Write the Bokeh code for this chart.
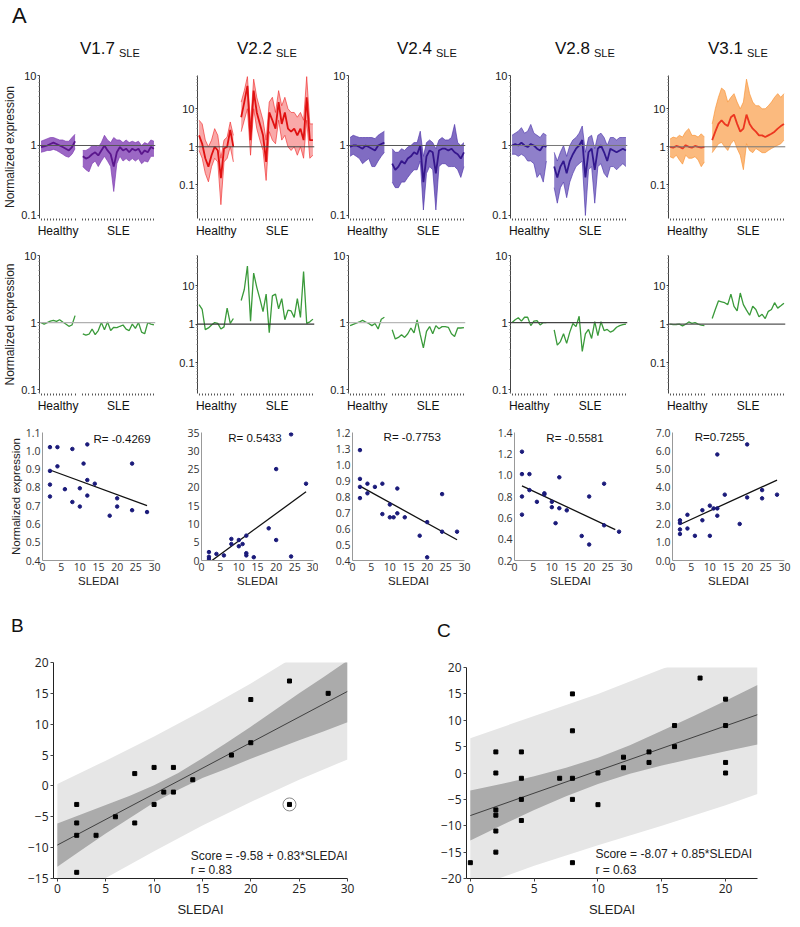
from bokeh.plotting import figure
from bokeh.layouts import row, column
from bokeh.models import (Div, Span, Label, FixedTicker, Range1d,
                          PrintfTickFormatter, BasicTickFormatter)
from bokeh.embed import file_html
from bokeh.resources import INLINE

SANS = "Liberation Sans"
NUM = "Open Sans"

# ------------------------------------------------------------------ data A
modules = ["V1.7", "V2.2", "V2.4", "V2.8", "V3.1"]
healthy_pos = list(range(12))
sle_pos = [13.5 + k for k in range(24)]
healthy_center = sum(healthy_pos) / len(healthy_pos)
sle_center = sum(sle_pos) / len(sle_pos)

# top row: transcript bundles (low envelope, typical, high envelope)
v17_h_lo = [0.8, 0.82, 0.85, 0.85, 0.88, 0.85, 0.8, 0.75, 0.7, 0.68, 0.75, 0.9]
v17_h_med = [0.95, 0.97, 1.0, 1.05, 1.1, 1.05, 1.0, 0.95, 0.9, 0.85, 0.95, 1.15]
v17_h_hi = [1.15, 1.2, 1.25, 1.3, 1.3, 1.25, 1.2, 1.2, 1.15, 1.15, 1.3, 1.45]
v17_s_lo = [0.5, 0.45, 0.42, 0.55, 0.6, 0.5, 0.6, 0.7, 0.6, 0.5, 0.22, 0.55, 0.7, 0.6, 0.65, 0.6, 0.65, 0.6, 0.65, 0.55, 0.6, 0.58, 0.7, 0.7]
v17_s_med = [0.7, 0.65, 0.68, 0.75, 0.8, 0.72, 0.85, 1.0, 0.85, 0.75, 0.5, 0.8, 0.95, 0.85, 0.9, 0.8, 0.9, 0.85, 0.9, 0.75, 0.85, 0.8, 0.95, 0.9]
v17_s_hi = [0.85, 0.85, 0.9, 1.0, 1.0, 0.95, 1.1, 1.4, 1.2, 1.1, 1.3, 1.2, 1.2, 1.1, 1.2, 1.1, 1.15, 1.1, 1.15, 1.0, 1.1, 1.05, 1.2, 1.15]

v22_h_lo = [0.8, 0.5, 0.2, 0.12, 0.3, 0.5, 0.4, 0.03, 0.4, 0.5, 1.0, 0.4]
v22_h_med = [2.0, 1.2, 0.5, 0.3, 0.6, 1.0, 0.8, 0.15, 0.9, 1.0, 2.8, 1.0]
v22_h_hi = [5.0, 4.0, 1.5, 1.0, 1.5, 3.0, 2.0, 0.5, 1.5, 1.8, 4.5, 2.0]
v22_s_lo = [2.5, 5, 10, 0.6, 10, 3, 1.5, 0.8, 0.13, 2.5, 1.5, 1.2, 5, 1.5, 2, 1.0, 0.8, 1.0, 0.6, 1.0, 0.5, 5, 0.5, 0.6]
v22_s_med = [6, 15, 40, 1.5, 30, 8, 4, 2, 0.4, 8, 5, 3, 15, 4, 8, 3, 2.5, 3, 2, 3, 1.5, 20, 1.5, 1.5]
v22_s_hi = [15, 30, 70, 4, 60, 20, 10, 5, 1.5, 15, 20, 8, 30, 12, 20, 10, 8, 8, 6, 8, 5, 70, 4, 4]

v24_h_lo = [0.7, 0.75, 0.7, 0.65, 0.55, 0.6, 0.65, 0.5, 0.5, 0.6, 0.7, 0.8]
v24_h_med = [0.95, 1.0, 1.0, 0.95, 0.9, 1.0, 0.95, 0.9, 0.85, 1.0, 1.05, 1.1]
v24_h_hi = [1.3, 1.4, 1.35, 1.3, 1.3, 1.3, 1.3, 1.3, 1.25, 1.4, 1.5, 1.6]
v24_s_lo = [0.3, 0.25, 0.25, 0.3, 0.3, 0.35, 0.4, 0.45, 0.45, 0.6, 0.12, 0.4, 0.5, 0.45, 0.12, 0.5, 0.55, 0.55, 0.5, 0.5, 0.5, 0.45, 0.35, 0.5]
v24_s_med = [0.55, 0.45, 0.5, 0.6, 0.55, 0.65, 0.7, 0.8, 0.75, 1.0, 0.3, 0.7, 0.85, 0.8, 0.4, 0.85, 0.9, 0.9, 0.85, 0.9, 0.8, 0.75, 0.65, 0.8]
v24_s_hi = [0.9, 0.8, 0.8, 0.9, 0.85, 0.95, 1.0, 1.1, 1.1, 1.6, 0.7, 1.1, 1.2, 1.1, 0.9, 1.2, 1.3, 1.2, 1.2, 1.3, 2.0, 1.1, 1.0, 1.1]

v28_h_lo = [0.75, 0.75, 0.7, 0.75, 0.7, 0.6, 0.6, 0.55, 0.35, 0.4, 0.3, 0.6]
v28_h_med = [1.0, 1.05, 1.0, 1.1, 1.0, 0.95, 1.05, 1.0, 0.9, 0.85, 1.0, 0.95]
v28_h_hi = [1.4, 1.5, 1.6, 1.8, 1.5, 1.6, 2.0, 1.5, 1.4, 1.3, 1.5, 1.4]
v28_s_lo = [0.25, 0.15, 0.25, 0.3, 0.18, 0.3, 0.4, 0.5, 0.55, 0.6, 0.1, 0.45, 0.5, 0.15, 0.5, 0.55, 0.4, 0.35, 0.5, 0.5, 0.45, 0.5, 0.55, 0.5]
v28_s_med = [0.5, 0.35, 0.5, 0.6, 0.4, 0.6, 0.75, 0.9, 1.0, 1.2, 0.35, 0.8, 0.9, 0.45, 0.9, 1.0, 0.8, 0.6, 0.9, 0.85, 0.8, 0.85, 0.9, 0.85]
v28_s_hi = [0.8, 0.6, 0.8, 1.0, 0.7, 1.0, 1.2, 1.3, 1.5, 1.9, 0.8, 1.3, 1.4, 0.9, 1.4, 1.5, 1.3, 1.0, 1.3, 1.3, 1.2, 1.3, 1.3, 1.3]

v31_h_lo = [0.55, 0.5, 0.6, 0.45, 0.35, 0.6, 0.5, 0.5, 0.55, 0.45, 0.3, 0.4]
v31_h_med = [1.0, 0.95, 1.05, 1.0, 0.9, 1.1, 1.0, 0.95, 1.05, 1.0, 0.95, 1.0]
v31_h_hi = [1.6, 1.8, 1.7, 2.0, 1.8, 2.5, 3.0, 2.0, 2.0, 1.8, 2.2, 1.8]
v31_s_lo = [0.7, 0.9, 1.2, 1.3, 1.0, 0.8, 1.2, 1.5, 0.9, 0.6, 0.25, 1.2, 0.8, 0.7, 0.9, 0.8, 0.7, 0.7, 0.8, 0.9, 1.0, 1.1, 1.2, 1.5]
v31_s_med = [1.5, 2.5, 4, 5, 4, 3.5, 6, 7, 4, 2.5, 3, 7, 4, 3, 2.5, 2, 2, 1.8, 2, 2.2, 2.5, 3, 3.5, 4]
v31_s_hi = [4, 10, 20, 35, 30, 15, 20, 25, 15, 10, 15, 60, 25, 15, 12, 12, 10, 10, 12, 15, 20, 25, 20, 25]

# middle row: module level (green)
g17_h = [1.0, 0.95, 1.0, 1.05, 1.08, 1.04, 1.1, 1.02, 0.95, 0.88, 0.92, 1.27]
g17_s = [0.68, 0.65, 0.67, 0.80, 0.66, 0.76, 1.0, 0.78, 1.02, 0.76, 0.85, 0.84, 0.88, 0.92, 0.80, 0.76, 0.95, 0.82, 1.0, 0.72, 0.68, 1.0, 0.95, 0.92]
g22_h = [3.2, 2.4, 0.72, 0.8, 0.95, 1.1, 1.05, 0.75, 0.85, 2.6, 1.05, 1.4]
g22_s = [4.1, 7.9, 32, 1.2, 21, 9.0, 4.5, 2.1, 6.0, 0.6, 5.4, 6.0, 2.5, 4.6, 1.3, 2.3, 2.2, 1.5, 4.6, 1.5, 23, 1.05, 1.15, 1.35]
g24_h = [0.9, 0.94, 0.98, 1.02, 1.08, 1.02, 0.97, 0.9, 0.97, 0.8, 1.12, 1.2]
g24_s = [0.78, 0.57, 0.6, 0.66, 0.6, 0.68, 0.83, 0.7, 1.1, 0.66, 0.42, 0.74, 0.87, 0.68, 0.9, 0.81, 0.87, 0.87, 0.85, 0.68, 0.62, 0.83, 0.83, 0.84]
g28_h = [1.0, 1.1, 1.18, 1.05, 1.2, 1.2, 0.9, 1.05, 1.07, 0.92, 1.0, 1.0]
g28_s = [0.78, 0.46, 0.52, 0.68, 0.49, 0.72, 0.97, 0.87, 1.24, 0.37, 0.68, 0.79, 0.58, 1.03, 0.64, 1.03, 0.76, 0.79, 0.72, 0.76, 0.85, 0.9, 0.93, 0.95]
g31_h = [1.0, 0.97, 0.98, 1.0, 0.9, 1.0, 1.14, 1.05, 1.1, 1.0, 0.94, 0.92]
g31_s = [1.4, 2.4, 4.0, 3.8, 3.6, 3.2, 6.0, 2.9, 2.2, 6.4, 3.2, 2.3, 1.7, 2.9, 2.4, 1.55, 1.8, 1.4, 2.15, 2.4, 3.6, 2.6, 3.0, 3.5]

# bottom row of A: SLEDAI correlations
s17_x = [2, 2, 2, 2, 4, 4, 6, 8, 8, 10, 10, 11, 12, 12, 12, 14, 18, 20, 20, 24, 24, 28]
s17_y = [1.02, 0.89, 0.815, 0.75, 1.02, 0.915, 0.79, 1.01, 0.72, 0.795, 0.695, 0.93, 1.035, 0.84, 0.755, 0.82, 0.645, 0.74, 0.695, 0.93, 0.675, 0.665]
s22_x = [2, 2, 2, 4, 6, 8, 8, 10, 10, 11, 12, 12, 12, 14, 18, 20, 20, 24, 24, 28]
s22_y = [2.3, 1.0, 0.4, 1.8, 1.4, 5.9, 4.5, 5.6, 3.9, 4.5, 6.8, 2.0, 1.4, 0.9, 8.8, 25, 5.6, 34.5, 1.1, 21]
s24_x = [2, 2, 2, 2, 4, 4, 6, 8, 8, 10, 10, 11, 12, 12, 14, 18, 20, 20, 24, 24, 28]
s24_y = [1.09, 0.91, 0.86, 0.79, 0.88, 0.82, 0.86, 0.88, 0.69, 0.75, 0.67, 0.67, 0.85, 0.695, 0.67, 0.555, 0.64, 0.42, 0.815, 0.58, 0.58]
s28_x = [2, 2, 2, 2, 4, 4, 6, 8, 8, 10, 10, 11, 12, 12, 14, 18, 20, 20, 24, 24, 28]
s28_y = [1.22, 1.01, 0.80, 0.63, 1.01, 0.86, 0.75, 0.82, 0.83, 0.75, 0.70, 0.55, 0.98, 0.69, 0.67, 0.43, 0.80, 0.35, 0.92, 0.53, 0.47]
s31_x = [2, 2, 2, 2, 4, 4, 6, 8, 8, 10, 10, 11, 12, 12, 12, 14, 18, 20, 20, 24, 24, 28]
s31_y = [2.2, 2.05, 1.7, 1.45, 2.5, 1.75, 1.35, 2.75, 2.2, 3.0, 1.35, 2.85, 5.8, 2.85, 2.45, 3.6, 2.0, 6.35, 3.45, 3.85, 3.4, 3.6]

fit17_x, fit17_y = [2, 28], [0.895, 0.70]
fit22_x, fit22_y = [2, 28], [-0.6, 18.8]
fit24_x, fit24_y = [2, 28], [0.865, 0.53]
fit28_x, fit28_y = [2, 27], [0.90, 0.49]
fit31_x, fit31_y = [2, 28], [1.97, 4.4]

r_texts = ["R= -0.4269", "R= 0.5433", "R= -0.7753", "R= -0.5581", "R=0.7255"]
r_pos_x = [21.3, 14.3, 16, 16.2, 12.7]
r_pos_y = [1.065, 33.6, 1.17, 1.35, 6.73]

corr_ranges = [(0.4, 1.1), (0, 35), (0.4, 1.2), (0.2, 1.4), (0, 7)]
corr_ticks = [[0.4, 0.5, 0.6, 0.7, 0.8, 0.9, 1.0, 1.1],
              [0, 5, 10, 15, 20, 25, 30, 35],
              [0.4, 0.5, 0.6, 0.7, 0.8, 0.9, 1.0, 1.1, 1.2],
              [0.2, 0.4, 0.6, 0.8, 1.0, 1.2, 1.4],
              [0, 1, 2, 3, 4, 5, 6, 7]]
sledai_ticks = [0, 5, 10, 15, 20, 25, 30]

# ------------------------------------------------------------------ data B
B_x = [2, 2, 2, 2, 4, 6, 8, 8, 10, 10, 11, 12, 12, 14, 18, 20, 20, 24, 28]
B_y = [-3, -6, -8, -14, -8, -5, 2, -6, 3, -3, -1, 3, -1, 1, 5, 14, 7, 17, 15]
B_out_x = [24]
B_out_y = [-3]
B_fit_x = [0, 30]
B_fit_y = [-9.58, 15.32]
B_conf_x = [0, 2.5, 5, 7.5, 10, 12.5, 15, 17.5, 20, 22.5, 25, 27.5, 30]
B_conf_lo = [-13.1, -10.4, -7.7, -5.2, -2.7, -0.6, 1.3, 2.8, 4.4, 5.9, 7.4, 8.8, 10.3]
B_conf_hi = [-6.1, -4.6, -3.1, -1.6, 0.1, 2.1, 4.5, 7.0, 9.6, 12.3, 15.0, 17.6, 20.3]
B_pred_x = [0, 5, 10, 15, 20, 25, 30]
B_pred_lo = [-19.5, -14.9, -10.6, -6.4, -2.6, 1.0, 4.3]
B_pred_hi = [0.3, 4.1, 8.0, 12.2, 16.6, 21.4, 26.3]

# ------------------------------------------------------------------ data C
C_x = [0, 2, 2, 2, 2, 2, 2, 4, 4, 4, 4, 7, 8, 8, 8, 8, 8, 10, 10, 12, 12, 14, 14, 16, 16, 18, 20, 20, 20, 20]
C_y = [-17, 4, 0, -7, -8, -11, -15, 4, -1, -5, -9, -1, 15, 8, -1, -5, -17, 0, -6, 3, 1, 4, 2, 9, 5, 18, 14, 9, 2, 0]
C_fit_x = [0, 22.5]
C_fit_y = [-8.07, 11.055]
C_conf_x = [0, 2.5, 5, 7.5, 10, 12.5, 15, 17.5, 20, 22.5]
C_conf_lo = [-12.8, -9.85, -7.0, -4.4, -2.1, -0.15, 1.4, 2.8, 4.1, 5.4]
C_conf_hi = [-3.3, -2.05, -0.6, 1.0, 2.9, 5.25, 8.0, 10.8, 13.7, 16.7]
C_pred_x = [0, 5, 10, 15, 20, 22.5]
C_pred_lo = [-21.9, -17.6, -13.7, -10.0, -6.1, -4.0]
C_pred_hi = [6.6, 10.8, 15.0, 19.7, 24.2, 26.5]

# ------------------------------------------------------------------ collect
bundles = [
    (v17_h_lo, v17_h_med, v17_h_hi, v17_s_lo, v17_s_med, v17_s_hi),
    (v22_h_lo, v22_h_med, v22_h_hi, v22_s_lo, v22_s_med, v22_s_hi),
    (v24_h_lo, v24_h_med, v24_h_hi, v24_s_lo, v24_s_med, v24_s_hi),
    (v28_h_lo, v28_h_med, v28_h_hi, v28_s_lo, v28_s_med, v28_s_hi),
    (v31_h_lo, v31_h_med, v31_h_hi, v31_s_lo, v31_s_med, v31_s_hi),
]
greens = [(g17_h, g17_s), (g22_h, g22_s), (g24_h, g24_s), (g28_h, g28_s), (g31_h, g31_s)]
scatters = [(s17_x, s17_y), (s22_x, s22_y), (s24_x, s24_y), (s28_x, s28_y), (s31_x, s31_y)]
fits = [(fit17_x, fit17_y), (fit22_x, fit22_y), (fit24_x, fit24_y), (fit28_x, fit28_y), (fit31_x, fit31_y)]

band_cols = ["#7a34b0", "#f02828", "#4a2ea8", "#4a32aa", "#f8902e"]
med_cols = ["#5a168c", "#e01010", "#35168c", "#32188e", "#ec3620"]
band_alpha = [0.75, 0.4, 0.7, 0.62, 0.62]
top_ranges = [(0.0906, 10), (0.013, 75), (0.0906, 10), (0.0906, 10), (0.013, 75)]
mid_ranges = [(0.0875, 10), (0.016, 60), (0.0875, 10), (0.0875, 10), (0.016, 60)]
top_span_cols = ["#555555", "#444444", "#555555", "#777777", "#777777"]
mid_span_cols = ["#b0b0b0", "#333333", "#b8b8b8", "#444444", "#555555"]

# page offset of 8px is built into the first column
col_w = [167, 151, 162, 158, 155]
left_b = [38, 30, 30, 30, 30]
left_b3 = [42, 34, 34, 34, 34]
title_pad = [80, 70, 79, 75, 70]
log_minor = [k * 10.0 ** e for e in (-2, -1, 0, 1) for k in range(2, 10)]


def base_fig(w, h, xr, yr, bl, br, bt, bb, log=False):
    p = figure(width=w, height=h, x_range=Range1d(*xr), y_range=Range1d(*yr),
               y_axis_type="log" if log else "linear", title=None,
               output_backend="svg", toolbar_location=None,
               min_border_left=bl, min_border_right=br,
               min_border_top=bt, min_border_bottom=bb, margin=(0, 0, 0, 0))
    p.outline_line_color = None
    p.grid.visible = False
    p.background_fill_color = "white"
    p.border_fill_color = "white"
    return p


def style_expr(p, ylab):
    xa = p.xaxis[0]
    xa.ticker = FixedTicker(ticks=[healthy_center, sle_center], minor_ticks=healthy_pos + sle_pos)
    xa.major_label_overrides = {healthy_center: "Healthy", sle_center: "SLE"}
    xa.axis_line_color = None
    xa.major_tick_out = 0
    xa.major_tick_in = 0
    xa.minor_tick_out = 2
    xa.minor_tick_in = 0
    xa.minor_tick_line_color = "#555555"
    xa.major_label_standoff = 3
    xa.major_label_text_font = SANS
    xa.major_label_text_font_size = "12px"
    xa.major_label_text_color = "#111111"
    ya = p.yaxis[0]
    ya.ticker = FixedTicker(ticks=[0.1, 1, 10], minor_ticks=log_minor)
    ya.formatter = BasicTickFormatter()
    ya.axis_line_color = "#444444"
    ya.major_tick_out = 2
    ya.major_tick_in = 0
    ya.minor_tick_out = 1
    ya.minor_tick_in = 0
    ya.major_tick_line_color = "#444444"
    ya.minor_tick_line_color = "#888888"
    ya.major_label_standoff = 1
    ya.major_label_text_font = SANS
    ya.major_label_text_font_size = "11px"
    ya.major_label_text_color = "#222222"
    if ylab:
        ya.axis_label = "Normalized expression"
        ya.axis_label_standoff = 1
        ya.axis_label_text_font = SANS
        ya.axis_label_text_font_size = "12px"
        ya.axis_label_text_font_style = "normal"
        ya.axis_label_text_color = "#222222"


# ------------------------------------------------------------------ header
header = Div(text='<div style="font-family:\'Liberation Sans\';font-size:22px;line-height:16px;'
                  'padding-top:8px;padding-left:12px;color:#111;">A</div>',
             width=790, height=30, margin=(0, 0, 0, 0))
title_divs = []
for i, m in enumerate(modules):
    html = ('<div style="font-family:\'Liberation Sans\';font-size:17px;line-height:19px;'
            'padding-top:9px;padding-left:%dpx;color:#111;white-space:nowrap;">%s'
            '<span style="font-size:11px;vertical-align:-3px;margin-left:4px;">SLE</span></div>'
            % (title_pad[i], m))
    title_divs.append(Div(text=html, width=col_w[i], height=32, margin=(0, 0, 0, 0)))

# ------------------------------------------------------------------ row 1
row1 = []
for i, m in enumerate(modules):
    p = base_fig(col_w[i], 178, (-0.5, 37), top_ranges[i], left_b[i], col_w[i] - left_b[i] - 117,
                 13, 21, log=True)
    h_lo, h_med, h_hi, s_lo, s_med, s_hi = bundles[i]
    for xs, lo, med, hi in ((healthy_pos, h_lo, h_med, h_hi), (sle_pos, s_lo, s_med, s_hi)):
        p.varea(x=xs, y1=lo, y2=hi, fill_color=band_cols[i], fill_alpha=band_alpha[i])
        p.line(xs, lo, line_color=band_cols[i], line_width=0.7, line_alpha=0.9)
        p.line(xs, hi, line_color=band_cols[i], line_width=0.7, line_alpha=0.9)
        p.line(xs, med, line_color=med_cols[i], line_width=1.8)
    p.add_layout(Span(location=1, dimension="width", line_color=top_span_cols[i], line_width=1))
    style_expr(p, i == 0)
    row1.append(p)

# ------------------------------------------------------------------ row 2
row2 = []
for i, m in enumerate(modules):
    p = base_fig(col_w[i], 175, (-0.5, 37), mid_ranges[i], left_b[i], col_w[i] - left_b[i] - 117,
                 15, 18, log=True)
    p.add_layout(Span(location=1, dimension="width", line_color=mid_span_cols[i], line_width=1.2))
    gh, gs = greens[i]
    p.line(healthy_pos, gh, line_color="#3a9a3a", line_width=1.3)
    p.line(sle_pos, gs, line_color="#3a9a3a", line_width=1.3)
    style_expr(p, i == 0)
    row2.append(p)

# ------------------------------------------------------------------ row 3
row3 = []
for i, m in enumerate(modules):
    p = base_fig(col_w[i], 177, (0, 30), corr_ranges[i], left_b3[i], col_w[i] - left_b3[i] - 112,
                 17, 32)
    sx, sy = scatters[i]
    fx, fy = fits[i]
    p.line(fx, fy, line_color="#111111", line_width=1.3)
    p.scatter(sx, sy, size=3.5, color="#1a1a7a", marker="circle")
    p.add_layout(Label(x=r_pos_x[i], y=r_pos_y[i], text=r_texts[i], text_align="center",
                       text_baseline="middle", text_font=SANS, text_font_size="11.5px",
                       text_color="#111111"))
    xa = p.xaxis[0]
    xa.ticker = FixedTicker(ticks=sledai_ticks)
    xa.axis_label = "SLEDAI"
    ya = p.yaxis[0]
    ya.ticker = FixedTicker(ticks=corr_ticks[i])
    if i != 1:
        ya.formatter = PrintfTickFormatter(format="%.1f")
    if i == 2:
        ya.major_label_overrides = {1.1: "1.3"}
    if i == 0:
        ya.axis_label = "Normalized expression"
    for ax in (xa, ya):
        ax.axis_line_color = "#999999"
        ax.major_tick_out = 0
        ax.major_tick_in = 0
        ax.minor_tick_out = 0
        ax.minor_tick_in = 0
        ax.major_label_standoff = 2
        ax.major_label_text_font = NUM
        ax.major_label_text_font_size = "10.5px"
        ax.major_label_text_color = "#333333"
        ax.axis_label_standoff = 1
        ax.axis_label_text_font = SANS
        ax.axis_label_text_font_size = "11.5px"
        ax.axis_label_text_font_style = "normal"
        ax.axis_label_text_color = "#222222"
    row3.append(p)


# ------------------------------------------------------------------ B and C
def style_bc(p, xt, yt):
    xa = p.xaxis[0]
    ya = p.yaxis[0]
    xa.ticker = FixedTicker(ticks=xt)
    ya.ticker = FixedTicker(ticks=yt)
    xa.axis_label = "SLEDAI"
    for ax in (xa, ya):
        ax.axis_line_color = "#222222"
        ax.major_tick_out = 3
        ax.major_tick_in = 0
        ax.major_tick_line_color = "#444444"
        ax.minor_tick_out = 0
        ax.minor_tick_in = 0
        ax.major_label_standoff = 2
        ax.major_label_text_font = NUM
        ax.major_label_text_font_size = "12px"
        ax.major_label_text_color = "#222222"
        ax.axis_label_standoff = 6
        ax.axis_label_text_font = SANS
        ax.axis_label_text_font_size = "13px"
        ax.axis_label_text_font_style = "normal"
        ax.axis_label_text_color = "#222222"


pB = base_fig(400, 282, (-0.4, 30), (-15, 20), 53, 53, 25, 39)
pB.varea(x=B_pred_x, y1=B_pred_lo, y2=B_pred_hi, fill_color="#e6e6e6")
pB.varea(x=B_conf_x, y1=B_conf_lo, y2=B_conf_hi, fill_color="#ababab")
pB.line(B_fit_x, B_fit_y, line_color="#333333", line_width=0.9)
pB.scatter(B_x, B_y, marker="square", size=4, color="#000000")
pB.scatter(B_out_x, B_out_y, marker="square", size=4, color="#000000")
pB.scatter(B_out_x, B_out_y, marker="circle", size=13, fill_color=None,
           line_color="#8a8a8a", line_width=1)
pB.add_layout(Label(x=13.8, y=-11.3, text="Score = -9.58 + 0.83*SLEDAI", text_baseline="middle",
                    text_font=SANS, text_font_size="12px", text_color="#222222"))
pB.add_layout(Label(x=13.8, y=-13.7, text="r = 0.83", text_baseline="middle",
                    text_font=SANS, text_font_size="12px", text_color="#222222"))
style_bc(pB, [0, 5, 10, 15, 20, 25, 30], [-15, -10, -5, 0, 5, 10, 15, 20])

pC = base_fig(392, 282, (-0.3, 22.5), (-20, 20), 66, 35, 30, 36)
pC.varea(x=C_pred_x, y1=C_pred_lo, y2=C_pred_hi, fill_color="#e6e6e6")
pC.varea(x=C_conf_x, y1=C_conf_lo, y2=C_conf_hi, fill_color="#ababab")
pC.line(C_fit_x, C_fit_y, line_color="#333333", line_width=0.9)
pC.scatter(C_x, C_y, marker="square", size=4, color="#000000")
pC.add_layout(Label(x=9.8, y=-15.4, text="Score = -8.07 + 0.85*SLEDAI", text_baseline="middle",
                    text_font=SANS, text_font_size="12px", text_color="#222222"))
pC.add_layout(Label(x=9.8, y=-18.3, text="r = 0.63", text_baseline="middle",
                    text_font=SANS, text_font_size="12px", text_color="#222222"))
style_bc(pC, [0, 5, 10, 15, 20], [-20, -15, -10, -5, 0, 5, 10, 15, 20])

divB = Div(text='<div style="font-family:\'Liberation Sans\';font-size:19px;line-height:19px;'
                'padding-top:24px;padding-left:11px;color:#111;">B</div>',
           width=400, height=45, margin=(0, 0, 0, 0))
divC = Div(text='<div style="font-family:\'Liberation Sans\';font-size:19px;line-height:19px;'
                'padding-top:29px;padding-left:37px;color:#111;">C</div>',
           width=392, height=45, margin=(0, 0, 0, 0))

layout = column(
    header,
    row(*title_divs),
    row(*row1),
    row(*row2),
    row(*row3),
    row(column(divB, pB), column(divC, pC)),
)

open("out.html", "w").write(file_html(layout, INLINE))
